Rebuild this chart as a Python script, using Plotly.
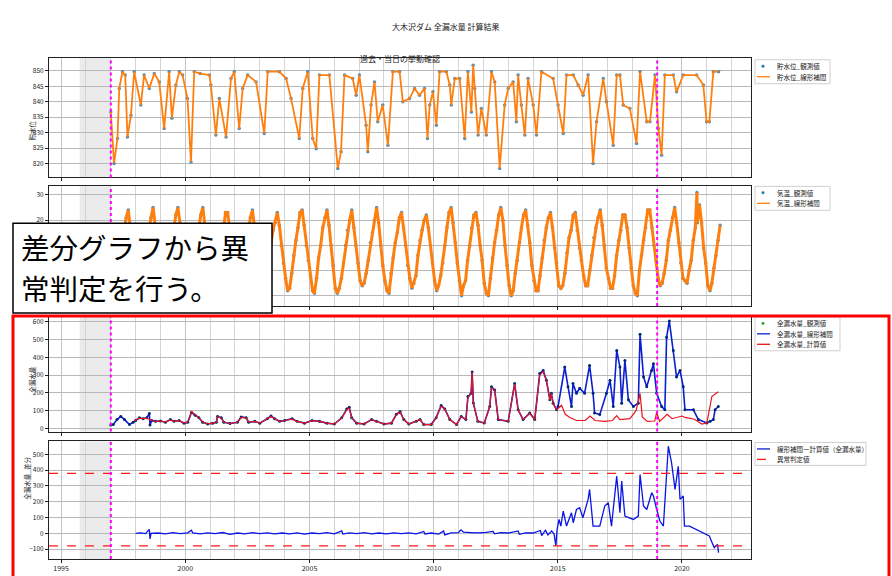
import pandas as pd
import plotly.graph_objects as go

FONT = "Noto Sans CJK JP"

# ---------------- data ----------------
# Panel 1: reservoir level (decimal year, level m)
LEVEL_T = [1997.00, 1997.13, 1997.27, 1997.34, 1997.47, 1997.58, 1997.67, 1997.81, 1997.94, 1998.21,
           1998.34, 1998.55, 1998.75, 1998.95, 1999.15, 1999.35, 1999.46, 1999.62, 1999.76, 1999.89,
           2000.09, 2000.23, 2000.36, 2000.60, 2000.97, 2001.03, 2001.23, 2001.37, 2001.64, 2001.84,
           2001.97, 2002.17, 2002.31, 2002.51, 2002.85, 2003.18, 2003.32, 2003.79, 2004.06, 2004.26,
           2004.59, 2004.73, 2004.93, 2005.13, 2005.27, 2005.40, 2005.80, 2006.14, 2006.27, 2006.41,
           2006.74, 2006.88, 2007.01, 2007.28, 2007.35, 2007.48, 2007.62, 2007.75, 2007.95, 2008.16,
           2008.36, 2008.63, 2008.76, 2009.03, 2009.23, 2009.43, 2009.63, 2009.75, 2009.84, 2009.97,
           2010.11, 2010.24, 2010.51, 2010.65, 2010.71, 2010.85, 2011.05, 2011.25, 2011.38, 2011.52,
           2011.59, 2011.65, 2011.79, 2011.92, 2012.12, 2012.33, 2012.46, 2012.66, 2012.86, 2013.00,
           2013.20, 2013.33, 2013.40, 2013.53, 2013.67, 2013.80, 2014.01, 2014.14, 2014.34, 2014.81,
           2015.01, 2015.22, 2015.35, 2015.62, 2015.82, 2016.02, 2016.22, 2016.42, 2016.56, 2016.83,
           2016.96, 2017.23, 2017.37, 2017.50, 2017.63, 2017.90, 2018.17, 2018.31, 2018.58, 2018.71,
           2018.91, 2019.05, 2019.18, 2019.31, 2019.65, 2019.78, 2020.05, 2020.59, 2020.86, 2020.99,
           2021.10, 2021.26, 2021.47]
LEVEL_V = [836.7, 820.0, 828.1, 844.3, 849.7, 848.6, 828.6, 835.6, 849.7, 838.9,
           848.6, 844.3, 849.1, 846.4, 831.3, 849.7, 834.6, 845.4, 849.7, 848.6,
           841.0, 820.5, 849.7, 849.1, 848.6, 845.4, 829.2, 841.0, 828.6, 847.5,
           849.7, 831.3, 844.3, 848.6, 846.4, 829.7, 849.7, 849.7, 847.5, 841.0,
           828.1, 844.3, 849.7, 828.1, 824.8, 848.6, 848.6, 818.4, 823.8, 848.6,
           847.5, 842.1, 848.6, 832.4, 823.8, 838.9, 846.4, 833.5, 838.9, 825.9,
           849.7, 849.7, 840.0, 841.0, 844.3, 842.1, 844.3, 828.1, 838.9, 843.2,
           832.4, 849.7, 849.7, 845.4, 838.9, 847.5, 847.5, 828.1, 849.7, 836.7,
           851.8, 844.3, 829.2, 837.8, 829.2, 849.7, 846.4, 818.4, 838.9, 844.3,
           846.4, 833.5, 848.6, 838.9, 829.2, 847.5, 838.9, 829.2, 849.7, 847.5,
           838.9, 829.7, 848.6, 848.6, 845.4, 842.1, 848.6, 820.0, 833.5, 847.5,
           840.0, 825.9, 848.6, 848.6, 838.9, 837.8, 826.5, 849.7, 833.5, 833.5,
           848.6, 831.3, 822.7, 848.6, 848.6, 843.2, 848.6, 848.6, 845.4, 833.5,
           833.5, 849.7, 849.7]

# Panel 2: air temperature, monthly values Jan..Dec from 1997-01
TEMP_START = "1997-01-15"
TEMP_V = [
    -6, -5, -1, 5, 11, 16, 21, 24, 17, 9, 3, -3,
    -7, -6, -2, 6, 12, 16, 21, 25, 18, 10, 3, -4,
    -8, -6, -1, 5, 11, 17, 22, 25, 19, 10, 2, -4,
    -7, -8, -2, 4, 12, 16, 22, 25, 18, 9, 3, -3,
    -9, -7, -2, 5, 11, 16, 23, 23, 17, 10, 2, -5,
    -7, -6, 0, 6, 11, 15, 21, 24, 17, 9, 1, -4,
    -8, -7, -2, 5, 11, 16, 19, 23, 18, 10, 3, -3,
    -8, -7, -1, 6, 12, 17, 23, 24, 18, 10, 4, -2,
    -8, -9, -3, 5, 10, 17, 21, 24, 18, 10, 2, -7,
    -9, -7, -3, 3, 10, 16, 20, 24, 17, 10, 3, -4,
    -6, -5, -1, 4, 11, 15, 20, 25, 19, 10, 2, -4,
    -8, -9, -1, 5, 11, 15, 21, 23, 17, 10, 2, -3,
    -7, -5, -2, 6, 12, 16, 20, 22, 17, 10, 3, -4,
    -8, -6, -2, 3, 10, 17, 23, 25, 19, 11, 3, -4,
    -10, -6, -4, 4, 10, 17, 22, 23, 18, 10, 4, -5,
    -9, -10, -3, 5, 11, 16, 22, 25, 20, 10, 2, -6,
    -10, -8, -1, 4, 11, 17, 22, 24, 18, 11, 2, -4,
    -8, -8, -2, 5, 12, 17, 21, 23, 17, 9, 3, -6,
    -7, -6, -1, 7, 13, 16, 22, 23, 16, 9, 4, -2,
    -6, -6, 0, 6, 13, 17, 21, 24, 18, 10, 1, -3,
    -7, -7, -2, 6, 12, 16, 22, 22, 17, 9, 1, -6,
    -9, -10, 0, 6, 12, 17, 24, 24, 17, 10, 4, -3,
    -6, -5, -1, 4, 12, 16, 21, 25, 19, 11, 3, -3,
    -4, -5, 0, 4, 12, 17, 19, 26, 19, 9, 3, -6,
    -8, -5, 1, 6, 12, 18,
]
TEMP_EXTRA_T = ["2020-08-08"]
TEMP_EXTRA_V = [31]

# Panel 3: total leakage, linear interpolation (blue)
LEAK_T = [1997.00, 1997.10, 1997.25, 1997.40, 1997.55, 1997.75, 1997.90, 1998.00, 1998.15, 1998.30,
          1998.45, 1998.55, 1998.58, 1998.65, 1998.80, 1999.00, 1999.20, 1999.40, 1999.55, 1999.75,
          1999.95, 2000.10, 2000.25, 2000.40, 2000.55, 2000.70, 2000.90, 2001.10, 2001.25, 2001.30,
          2001.45, 2001.55, 2001.80, 2002.10, 2002.25, 2002.45, 2002.55, 2002.80, 2003.00, 2003.30,
          2003.45, 2003.60, 2003.80, 2004.00, 2004.30, 2004.50, 2004.80, 2005.10, 2005.40, 2005.70,
          2006.00, 2006.30, 2006.50, 2006.60, 2006.70, 2006.90, 2007.20, 2007.50, 2007.70, 2008.00,
          2008.30, 2008.50, 2008.65, 2008.80, 2009.00, 2009.30, 2009.45, 2009.60, 2009.90, 2010.10,
          2010.30, 2010.45, 2010.65, 2010.92, 2011.11, 2011.30, 2011.38, 2011.51, 2011.55, 2011.60,
          2011.78, 2012.04, 2012.26, 2012.33, 2012.46, 2012.60, 2013.00, 2013.26, 2013.40, 2013.60,
          2013.87, 2014.07, 2014.27, 2014.41, 2014.54, 2014.68, 2014.74, 2014.81, 2014.95, 2015.01,
          2015.28, 2015.41, 2015.55, 2015.61, 2015.75, 2015.88, 2016.08, 2016.28, 2016.42, 2016.48,
          2016.69, 2016.96, 2017.10, 2017.23, 2017.37, 2017.50, 2017.57, 2017.70, 2017.84, 2018.04,
          2018.24, 2018.31, 2018.45, 2018.58, 2018.78, 2018.85, 2018.98, 2019.18, 2019.31, 2019.38,
          2019.49, 2019.65, 2019.78, 2019.92, 2020.05, 2020.12, 2020.46, 2020.66, 2021.00, 2021.13,
          2021.26, 2021.33, 2021.46]
LEAK_V = [20, 22, 50, 68, 50, 22, 35, 45, 60, 55,
          60, 85, 20, 45, 40, 42, 35, 50, 40, 45,
          30, 35, 90, 75, 60, 35, 25, 30, 35, 68,
          60, 35, 28, 35, 65, 60, 35, 40, 30, 55,
          70, 55, 40, 45, 55, 40, 30, 45, 40, 30,
          25, 60, 110, 120, 60, 30, 25, 50, 40, 25,
          30, 80, 95, 50, 25, 40, 50, 22, 22, 60,
          130, 110, 50, 22, 68, 50, 180, 198, 318, 143,
          40, 31, 124, 235, 216, 50, 40, 253, 105, 50,
          87, 50, 309, 327, 272, 161, 198, 142, 105, 124,
          346, 235, 124, 253, 198, 226, 198, 355, 198, 87,
          78, 198, 272, 124, 439, 346, 142, 383, 161, 124,
          142, 531, 290, 235, 327, 364, 198, 124, 105, 513,
          605, 439, 290, 327, 235, 105, 105, 50, 31, 40,
          50, 105, 124]

# Panel 3: total leakage, calculated (red)
CALC_T = [1997.93, 1998.00, 1998.15, 1998.30, 1998.45, 1998.65, 1998.80, 1999.00, 1999.20, 1999.40,
          1999.55, 1999.75, 1999.95, 2000.10, 2000.25, 2000.40, 2000.55, 2000.70, 2000.90, 2001.10,
          2001.25, 2001.30, 2001.45, 2001.55, 2001.80, 2002.10, 2002.25, 2002.45, 2002.55, 2002.80,
          2003.00, 2003.30, 2003.45, 2003.60, 2003.80, 2004.00, 2004.30, 2004.50, 2004.80, 2005.10,
          2005.40, 2005.70, 2006.00, 2006.30, 2006.50, 2006.60, 2006.70, 2006.90, 2007.20, 2007.50,
          2007.70, 2008.00, 2008.30, 2008.50, 2008.65, 2008.80, 2009.00, 2009.30, 2009.45, 2009.60,
          2009.90, 2010.10, 2010.30, 2010.45, 2010.65, 2010.92, 2011.11, 2011.30, 2011.38, 2011.51,
          2011.55, 2011.60, 2011.78, 2012.04, 2012.26, 2012.33, 2012.46, 2012.60, 2013.00, 2013.26,
          2013.40, 2013.60, 2013.87, 2014.07, 2014.27, 2014.41, 2014.54, 2014.68, 2014.74, 2014.81,
          2014.95, 2015.15, 2015.30, 2015.50, 2015.75, 2016.10, 2016.30, 2016.50, 2016.90, 2017.20,
          2017.37, 2017.50, 2017.90, 2018.15, 2018.31, 2018.40, 2018.60, 2018.90, 2018.98, 2019.10,
          2019.40, 2019.60, 2020.00, 2020.12, 2020.50, 2020.80, 2021.00, 2021.20, 2021.46]
CALC_V = [40, 48, 58, 55, 58, 45, 40, 42, 36, 48,
          40, 44, 32, 36, 95, 78, 60, 36, 26, 30,
          35, 66, 58, 36, 28, 35, 62, 58, 36, 40,
          30, 55, 68, 55, 40, 45, 52, 40, 30, 44,
          40, 30, 25, 58, 105, 115, 60, 30, 25, 50,
          40, 25, 30, 78, 92, 50, 25, 40, 50, 22,
          22, 60, 125, 108, 50, 22, 66, 50, 175, 195,
          318, 140, 40, 31, 120, 230, 212, 50, 40, 250,
          105, 50, 85, 50, 300, 320, 268, 160, 198, 140,
          105, 130, 80, 60, 45, 45, 70, 45, 40, 45,
          72, 50, 55, 100, 198, 65, 40, 42, 90, 40,
          80, 55, 70, 62, 52, 25, 31, 180, 207]

# Panel 4: linear interpolation minus calculated
DIFF_T = [1998.00, 1998.20, 1998.40, 1998.55, 1998.58, 1998.62, 1998.90, 1999.20, 1999.50, 1999.80,
          2000.10, 2000.25, 2000.30, 2000.60, 2000.90, 2001.20, 2001.50, 2001.80, 2002.10, 2002.40,
          2002.70, 2003.00, 2003.30, 2003.60, 2003.90, 2004.20, 2004.50, 2004.80, 2005.10, 2005.40,
          2005.70, 2006.00, 2006.30, 2006.35, 2006.60, 2006.90, 2007.20, 2007.50, 2007.80, 2008.10,
          2008.40, 2008.70, 2009.00, 2009.30, 2009.60, 2009.65, 2009.90, 2010.20, 2010.40, 2010.45,
          2010.70, 2011.00, 2011.10, 2011.20, 2011.50, 2011.80, 2012.10, 2012.40, 2012.45, 2012.70,
          2013.00, 2013.40, 2013.45, 2013.70, 2014.00, 2014.30, 2014.35, 2014.50, 2014.60, 2014.75,
          2014.85, 2014.92, 2014.97, 2015.05, 2015.12, 2015.22, 2015.35, 2015.55, 2015.62, 2015.75,
          2015.88, 2016.01, 2016.22, 2016.28, 2016.42, 2016.69, 2016.89, 2017.03, 2017.16, 2017.37,
          2017.50, 2017.57, 2017.70, 2018.04, 2018.24, 2018.31, 2018.45, 2018.58, 2018.78, 2018.85,
          2018.98, 2019.11, 2019.25, 2019.38, 2019.45, 2019.58, 2019.72, 2019.85, 2019.92, 2020.05,
          2020.10, 2020.30, 2020.57, 2020.84, 2021.10, 2021.24, 2021.30, 2021.43, 2021.47]
DIFF_V = [0, 3, -2, 25, -35, 0, 2, -3, 4, -2,
          3, 20, 2, -4, 3, -2, 5, -6, 2, -3,
          4, -2, 3, -4, 2, -3, 3, -5, 2, -2,
          4, -3, 15, -5, 3, -2, 4, -3, 2, -4,
          3, -2, 3, -3, 12, -4, 2, -5, 15, -10,
          3, 5, 22, 8, 5, 3, 6, 12, -3, 4,
          2, 15, -6, 3, 2, 18, -15, 20, -10, 15,
          -5, -80, 25, 88, 46, 141, 46, 130, 67, 151,
          162, 99, 215, 278, 46, 46, 173, 194, 46, 362,
          130, 331, 109, 88, 109, 373, 173, 151, 257, 236,
          151, 78, 46, 425, 552, 446, 278, 425, 215, 236,
          46, 46, 25, 4, -17, -70, -90, -70, -122]

THRESHOLDS = [380, -80]

SHADE_START, EVAL_START, EVAL_END = "1995-10-01", "1997-01-01", "2019-01-01"
X_RANGE = ["1994-07-07", "2022-10-12"]

TITLE = "大木沢ダム 全漏水量 計算結果"
SUBTITLE = "過去・当日の挙動確認"
YLABELS = ["貯水位", "全漏水量", "全漏水量_差分"]
NOTE_LINES = ["差分グラフから異", "常判定を行う。"]
TEMP_TICKS = [-10, 0, 10, 20, 30]
TEMP_TICKTEXT = ["", "", "", "20", "30"]   # lower labels are hidden behind the note box


def to_dates(years):
    out = []
    for y in years:
        yr = int(y)
        out.append(pd.Timestamp(yr, 1, 1) + pd.Timedelta(days=(y - yr) * 365.25))
    return out


temp = pd.DataFrame({"t": pd.date_range(TEMP_START, periods=len(TEMP_V), freq="MS") + pd.Timedelta(days=14),
                     "v": TEMP_V})
temp = pd.concat([temp, pd.DataFrame({"t": pd.to_datetime(TEMP_EXTRA_T), "v": TEMP_EXTRA_V})]).sort_values("t")

lt, ct, dt, wt = to_dates(LEVEL_T), to_dates(LEAK_T), to_dates(CALC_T), to_dates(DIFF_T)

W, H = 892, 576
def px(x): return x / W
def py(y): return 1 - y / H

fig = go.Figure()
C0, C1 = "#1f77b4", "#ff7f0e"
BLUE, NAVY, RED, GREEN = "#0a1fd0", "#0a1a90", "#e8141c", "#2ca02c"

# panel 1
fig.add_trace(go.Scatter(x=lt, y=LEVEL_V, mode="markers", name="貯水位_観測値",
                         marker=dict(color=C0, size=3.5, opacity=0.8), xaxis="x", yaxis="y"))
fig.add_trace(go.Scatter(x=lt, y=LEVEL_V, mode="lines", name="貯水位_線形補間",
                         line=dict(color=C1, width=1.8), xaxis="x", yaxis="y"))
# panel 2
fig.add_trace(go.Scatter(x=temp["t"], y=temp["v"], mode="markers", name="気温_観測値",
                         marker=dict(color=C0, size=3.5, opacity=0.8), xaxis="x2", yaxis="y2"))
fig.add_trace(go.Scatter(x=temp["t"], y=temp["v"], mode="lines", name="気温_線形補間",
                         line=dict(color=C1, width=3), xaxis="x2", yaxis="y2"))
# panel 3
fig.add_trace(go.Scatter(x=ct, y=LEAK_V, mode="markers", name="全漏水量_観測値",
                         marker=dict(color=GREEN, size=3), xaxis="x3", yaxis="y3"))
fig.add_trace(go.Scatter(x=ct, y=LEAK_V, mode="lines+markers", name="全漏水量_線形補間",
                         line=dict(color=BLUE, width=1.6), marker=dict(size=2.5, color=NAVY),
                         xaxis="x3", yaxis="y3"))
fig.add_trace(go.Scatter(x=dt, y=CALC_V, mode="lines", name="全漏水量_計算値",
                         line=dict(color=RED, width=1.2), xaxis="x3", yaxis="y3"))
# panel 4
fig.add_trace(go.Scatter(x=wt, y=DIFF_V, mode="lines", name="線形補間ー計算値（全漏水量）",
                         line=dict(color="#0a14e6", width=1.3), xaxis="x4", yaxis="y4"))
thr_x, thr_y = [], []
for v in THRESHOLDS:
    thr_x += [X_RANGE[0], X_RANGE[1], None]
    thr_y += [v, v, None]
fig.add_trace(go.Scatter(x=thr_x, y=thr_y, mode="lines", name="異常判定値",
                         line=dict(color="#ff1a1a", width=1.2, dash="dash"), xaxis="x4", yaxis="y4"))

domains = [(57, 177), (186, 306), (317, 432), (442, 560)]
yranges = [[815.5, 854.2], [-14, 33.4], [-17, 628], [-163, 582]]
ydticks = [5, 10, 100, 100]
xdom = [px(49), px(751)]
tickfont = dict(family=FONT, size=6.5, color="#222")
layout = dict(width=W, height=H, autosize=False, margin=dict(l=0, r=0, t=0, b=0),
              plot_bgcolor="white", paper_bgcolor="white", font=dict(family=FONT, size=7, color="#222"),
              showlegend=False)
for i, (top, bot) in enumerate(domains):
    n = "" if i == 0 else str(i + 1)
    layout["xaxis" + n] = dict(domain=xdom, anchor="y" + n, range=X_RANGE, type="date",
                               tick0="1995-01-01", dtick="M60", tickformat="%Y",
                               showticklabels=(i == 3), ticks="outside", ticklen=3, tickcolor="#222",
                               showgrid=True, gridcolor="#c4c4c4", gridwidth=1,
                               minor=dict(dtick="M12", tick0="1995-01-01", showgrid=True, gridcolor="#d4d4d4"),
                               showline=True, linecolor="#222", linewidth=1, mirror=True,
                               zeroline=False, tickfont=dict(family=FONT, size=7, color="#222"),
                               **({} if i == 0 else {"matches": "x"}))
    ya = dict(domain=[py(bot), py(top)], anchor="x" + n, range=yranges[i],
              dtick=ydticks[i], ticks="outside", ticklen=3, tickcolor="#222",
              showgrid=True, gridcolor="#b8b8b8", gridwidth=1, zeroline=False,
              showline=True, linecolor="#222", linewidth=1, mirror=True, tickfont=tickfont)
    if i == 1:
        ya.update(tickmode="array", tickvals=TEMP_TICKS, ticktext=TEMP_TICKTEXT)
    layout["yaxis" + n] = ya
fig.update_layout(**layout)

shapes = []
for i in range(4):
    n = "" if i == 0 else str(i + 1)
    shapes.append(dict(type="rect", xref="x" + n, yref="y" + n + " domain", x0=SHADE_START, x1=EVAL_START,
                       y0=0, y1=1, fillcolor="#ebebeb", line=dict(width=0), layer="below"))
    for d in (EVAL_START, EVAL_END):
        shapes.append(dict(type="line", xref="x" + n, yref="y" + n + " domain", x0=d, x1=d, y0=0, y1=1,
                           line=dict(color="#ff00ff", width=2, dash="dot"), layer="above"))

ann = [
    dict(text=TITLE, x=px(446), y=py(18), xref="paper", yref="paper", showarrow=False,
         font=dict(family=FONT, size=8, color="#222")),
    dict(text=SUBTITLE, x=px(400), y=py(50), xref="paper", yref="paper", showarrow=False,
         font=dict(family=FONT, size=8, color="#222")),
]
for lab, (xx, yy) in zip(YLABELS, [(25, 118), (25, 380), (20, 503)]):
    ann.append(dict(text=lab, x=px(xx), y=py(yy), xref="paper", yref="paper", showarrow=False,
                    textangle=-90, font=dict(family=FONT, size=6.5, color="#222")))

# ---- compact legends drawn like matplotlib legends ----
LEGENDS = [
    dict(box=(755, 59, 830, 83), items=[("marker", C0, "貯水位_観測値"), ("line", C1, "貯水位_線形補間")]),
    dict(box=(755, 186, 830, 210), items=[("marker", C0, "気温_観測値"), ("line", C1, "気温_線形補間")]),
    dict(box=(755, 317, 840, 351), items=[("marker", GREEN, "全漏水量_観測値"), ("line", BLUE, "全漏水量_線形補間"),
                                          ("line", RED, "全漏水量_計算値")]),
    dict(box=(755, 443, 866, 466), items=[("line", BLUE, "線形補間ー計算値（全漏水量）"), ("dash", "#ff1a1a", "異常判定値")]),
]
for lg in LEGENDS:
    x0, y0, x1, y1 = lg["box"]
    shapes.append(dict(type="rect", xref="paper", yref="paper", x0=px(x0), x1=px(x1), y0=py(y1), y1=py(y0),
                       line=dict(color="#cfcfcf", width=1), fillcolor="white", layer="above"))
    for k, (kind, col, lab) in enumerate(lg["items"]):
        yc = y0 + 6.5 + 10.5 * k
        if kind == "marker":
            shapes.append(dict(type="circle", xref="paper", yref="paper", x0=px(761.5), x1=px(764.5),
                               y0=py(yc + 1.5), y1=py(yc - 1.5), fillcolor=col, line=dict(width=0),
                               layer="above"))
        else:
            shapes.append(dict(type="line", xref="paper", yref="paper", x0=px(757), x1=px(770), y0=py(yc),
                               y1=py(yc), line=dict(color=col, width=1.3,
                                                    dash="dash" if kind == "dash" else "solid"),
                               layer="above"))
        ann.append(dict(text=lab, x=px(775), y=py(yc), xref="paper", yref="paper", xanchor="left",
                        yanchor="middle", showarrow=False, font=dict(family=FONT, size=6.5, color="#222")))

shapes.append(dict(type="rect", xref="paper", yref="paper", x0=px(13), x1=px(889), y0=py(590), y1=py(316),
                   line=dict(color="#ff0000", width=3), fillcolor="rgba(0,0,0,0)", layer="above"))
# note box (white box with black frame) and its two lines of text
shapes.append(dict(type="rect", xref="paper", yref="paper", x0=px(13), x1=px(272), y0=py(313), y1=py(223),
                   line=dict(color="#000000", width=1.5), fillcolor="white", layer="above"))
for line_text, yc in zip(NOTE_LINES, [246, 287]):
    ann.append(dict(text=line_text, x=px(19), y=py(yc), xref="paper", yref="paper", xanchor="left",
                    yanchor="middle", showarrow=False, font=dict(family=FONT, size=28.5, color="#000")))
fig.update_layout(shapes=shapes, annotations=ann)

fig.write_html("out.html")
